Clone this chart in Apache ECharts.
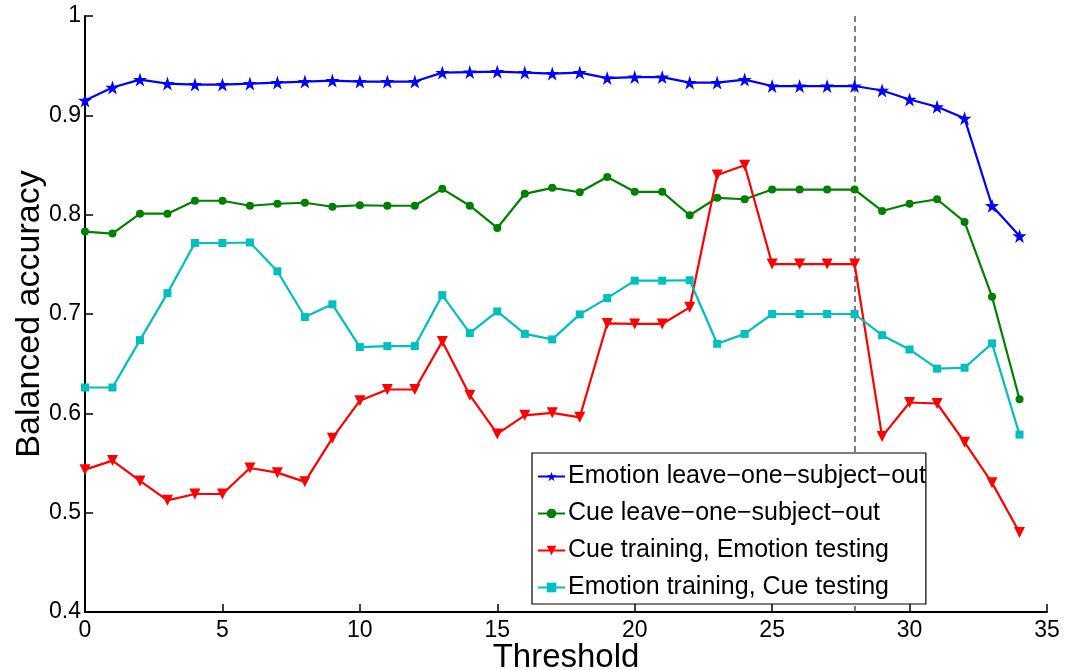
<!DOCTYPE html>
<html>
<head>
<meta charset="utf-8">
<script src="https://cdn.jsdelivr.net/npm/echarts@6/dist/echarts.min.js"></script>
<style>
  html, body { margin: 0; padding: 0; background: #fff; }
  #chart { width: 1074px; height: 670px; }
</style>
</head>
<body>
<div id="chart"></div>
<script>
// Threshold values 0..34
const thresholds = [0,1,2,3,4,5,6,7,8,9,10,11,12,13,14,15,16,17,18,19,20,21,22,23,24,25,26,27,28,29,30,31,32,33,34];

const emotionLoso = [0.915,0.928,0.936,0.932,0.931,0.931,0.932,0.933,0.934,0.935,0.934,0.934,0.934,0.943,0.9435,0.944,0.943,0.942,0.943,0.9375,0.9385,0.9385,0.933,0.933,0.936,0.9295,0.9295,0.9295,0.9295,0.925,0.916,0.9086,0.897,0.809,0.7785];
const cueLoso = [0.783,0.781,0.801,0.801,0.814,0.814,0.809,0.811,0.812,0.808,0.8095,0.809,0.809,0.826,0.809,0.7866,0.821,0.827,0.8226,0.838,0.823,0.823,0.7994,0.817,0.8155,0.8253,0.8253,0.8253,0.8253,0.8037,0.811,0.8155,0.7927,0.7174,0.6142];
const cueTrainEmoTest = [0.5433,0.5524,0.532,0.5124,0.5188,0.5188,0.545,0.5403,0.531,0.575,0.6127,0.624,0.624,0.6724,0.6183,0.5793,0.598,0.6005,0.596,0.6905,0.690,0.690,0.7067,0.840,0.8498,0.7503,0.7503,0.7503,0.7503,0.5766,0.6109,0.6099,0.571,0.530,0.4801];
const emoTrainCueTest = [0.626,0.626,0.6737,0.721,0.7715,0.7715,0.772,0.743,0.697,0.7097,0.6667,0.6677,0.6677,0.719,0.6808,0.7026,0.680,0.6744,0.6996,0.716,0.7336,0.7336,0.734,0.670,0.680,0.700,0.700,0.700,0.700,0.6787,0.6643,0.645,0.6459,0.6704,0.5786];

const seriesNames = [
  'Emotion leave\u2212one\u2212subject\u2212out',
  'Cue leave\u2212one\u2212subject\u2212out',
  'Cue training, Emotion testing',
  'Emotion training, Cue testing'
];
const cutoff = 28;

function pairs(vals) {
  return thresholds.map((t, i) => [t, vals[i]]);
}

const chart = echarts.init(document.getElementById('chart'));
const font = 'Liberation Sans, Arial, sans-serif';

function lineSeries(name, vals, color, symbol, size) {
  return {
    name: name,
    type: 'line',
    data: pairs(vals),
    symbol: symbol,
    symbolSize: size,
    showSymbol: true,
    lineStyle: { color: color, width: 2.2 },
    itemStyle: { color: color },
    emphasis: { disabled: true },
    z: 3
  };
}

const star = 'path://M50,0 L61.8,35.4 L99,35.4 L69,57.3 L80.4,92.7 L50,70.8 L19.6,92.7 L31,57.3 L1,35.4 L38.2,35.4 Z';
const s1 = lineSeries(seriesNames[0], emotionLoso, '#0000ff', star, 14);
const s2 = lineSeries(seriesNames[1], cueLoso, '#008000', 'circle', 8);
const s3 = lineSeries(seriesNames[2], cueTrainEmoTest, '#ff0000', 'path://M0,0 L10,0 L5,9 Z', 11);
const s4 = lineSeries(seriesNames[3], emoTrainCueTest, '#00bfbf', 'rect', 8);

// dashed cut-off line at threshold 28
s1.markLine = {
  silent: true,
  symbol: 'none',
  label: { show: false },
  lineStyle: { color: '#555', type: [6, 4], width: 1.5 },
  data: [{ xAxis: cutoff }],
  z: 1
};

chart.setOption({
  animation: false,
  backgroundColor: '#fff',
  grid: { left: 85, top: 16, right: 27, bottom: 58, outerBoundsMode: 'none', containLabel: false },
  xAxis: {
    type: 'value',
    min: 0, max: 35, interval: 5,
    name: 'Threshold',
    nameLocation: 'middle',
    nameGap: 29,
    nameMoveOverlap: false,
    nameTextStyle: { fontFamily: font, fontSize: 33, color: '#000' },
    axisLine: { show: true, onZero: false, lineStyle: { color: '#000', width: 2 } },
    axisTick: { show: true, inside: true, length: 8, lineStyle: { color: '#000', width: 1.5 } },
    axisLabel: { fontFamily: font, fontSize: 23, color: '#000', margin: 7 },
    splitLine: { show: false }
  },
  yAxis: {
    type: 'value',
    min: 0.4, max: 1, interval: 0.1,
    name: 'Balanced accuracy',
    nameLocation: 'middle',
    nameGap: 38,
    nameMoveOverlap: false,
    nameTextStyle: { fontFamily: font, fontSize: 34, color: '#000' },
    axisLine: { show: true, lineStyle: { color: '#000', width: 2 } },
    axisTick: { show: true, inside: true, length: 8, lineStyle: { color: '#000', width: 1.5 } },
    axisLabel: {
      fontFamily: font, fontSize: 23, color: '#000', margin: 4,
      formatter: v => (Math.abs(v - 1) < 1e-9 ? '1' : v.toFixed(1))
    },
    splitLine: { show: false }
  },
  legend: {
    orient: 'vertical',
    left: 532,
    top: 453,
    padding: [11, 0, 4, 5],
    itemGap: 12,
    itemWidth: 27,
    itemHeight: 12,
    backgroundColor: '#fff',
    borderColor: '#000',
    borderWidth: 1.2,
    textStyle: { fontFamily: font, fontSize: 25, lineHeight: 25, color: '#000', padding: [0, 0, 0, -2] },
    data: seriesNames
  },
  series: [s1, s2, s3, s4]
});
</script>
</body>
</html>
